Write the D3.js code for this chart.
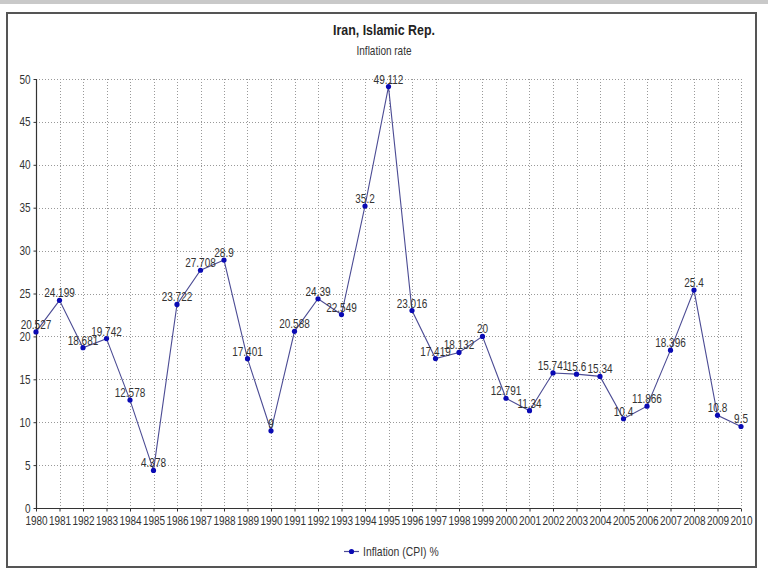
<!DOCTYPE html>
<html>
<head>
<meta charset="utf-8">
<script src="https://cdn.jsdelivr.net/npm/d3@7"></script>
<style>
  html, body { margin: 0; padding: 0; background: #ffffff; }
  svg { display: block; }
  text { font-family: "Liberation Sans", Arial, sans-serif; fill: #333; }
</style>
</head>
<body>
<script>
const years = [1980,1981,1982,1983,1984,1985,1986,1987,1988,1989,1990,1991,1992,1993,1994,1995,1996,1997,1998,1999,2000,2001,2002,2003,2004,2005,2006,2007,2008,2009,2010];
const values = [20.527,24.199,18.681,19.742,12.578,4.378,23.722,27.708,28.9,17.401,9,20.588,24.39,22.549,35.2,49.112,23.016,17.419,18.132,20,12.791,11.34,15.741,15.6,15.34,10.4,11.866,18.396,25.4,10.8,9.5];
const labels = ["20.527","24.199","18.681","19.742","12.578","4.378","23.722","27.708","28.9","17.401","9","20.588","24.39","22.549","35.2","49.112","23.016","17.419","18.132","20","12.791","11.34","15.741","15.6","15.34","10.4","11.866","18.396","25.4","10.8","9.5"];
const yTicks = [0,5,10,15,20,25,30,35,40,45,50];
const title = "Iran, Islamic Rep.";
const subtitle = "Inflation rate";
const seriesName = "Inflation (CPI) %";

const NARROW = 0.8;
const W = 768, H = 576;
const svg = d3.select("body").append("svg").attr("width", W).attr("height", H);

function ntext(parent, px, py, str, size, anchor, weight) {
  const g = parent.append("g").attr("transform", `translate(${px},${py})`);
  const t = g.append("text").attr("transform", `scale(${NARROW},1)`)
    .attr("text-anchor", anchor || "start").attr("font-size", size + "px").text(str);
  if (weight) t.attr("font-weight", weight);
  return t;
}

// top strip and frame
svg.append("rect").attr("x",0).attr("y",0).attr("width",W).attr("height",4).attr("fill","#c9c9c9");
svg.append("rect").attr("x",7).attr("y",13).attr("width",749).attr("height",554)
  .attr("fill","#fff").attr("stroke","#555").attr("stroke-width",2);

const x = d3.scaleLinear().domain([1980,2010]).range([36,741]);
const y = d3.scaleLinear().domain([0,50]).range([508,79]);

// titles
ntext(svg, 384, 35, title, 15.5, "middle", "bold").style("fill","#222");
ntext(svg, 384, 55, subtitle, 12.5, "middle");

// grid
const grid = svg.append("g").attr("stroke","#999").attr("stroke-width",1).attr("stroke-dasharray","1,2");
grid.selectAll("line.h").data(yTicks.filter(d=>d>0)).enter().append("line")
  .attr("x1",36).attr("x2",744).attr("y1",d=>Math.round(y(d))+0.5).attr("y2",d=>Math.round(y(d))+0.5);
grid.selectAll("line.v").data(years.slice(1)).enter().append("line")
  .attr("x1",d=>Math.round(x(d))+0.5).attr("x2",d=>Math.round(x(d))+0.5).attr("y1",y(50)).attr("y2",y(0));

// axes
const yAxis = d3.axisLeft(y).tickValues(yTicks).tickSize(3).tickPadding(3).tickFormat(d3.format("d"));
const gy = svg.append("g").attr("transform","translate(36.5,0)").call(yAxis);
const xAxis = d3.axisBottom(x).tickValues(years).tickSize(3).tickPadding(5).tickFormat(d3.format("d"));
const gx = svg.append("g").attr("transform",`translate(0,${Math.round(y(0))+0.5})`).call(xAxis);
[gy,gx].forEach(g=>{
  g.attr("font-family",null).attr("font-size",null);
  g.select(".domain").attr("stroke","#333").attr("stroke-width",1.2);
  g.selectAll(".tick line").attr("stroke","#333");
  g.selectAll(".tick text").attr("font-size","12.5px").style("fill","#333")
    .attr("transform",`scale(${NARROW},1)`);
});
gy.selectAll(".tick text").attr("x",-6/NARROW);
gy.select(".domain").attr("d",`M0,${y(50)}V${y(0)}`);
gx.select(".domain").attr("d",`M${x(1980)},0H${x(2010)}`);

// line
const line = d3.line().x((d,i)=>x(years[i])).y(d=>y(d));
svg.append("path").datum(values).attr("d",line).attr("fill","none")
  .attr("stroke","#4c4c94").attr("stroke-width",1.1);

// points
svg.selectAll("circle.pt").data(values).enter().append("circle")
  .attr("cx",(d,i)=>x(years[i])).attr("cy",d=>y(d)).attr("r",2.6).attr("fill","#0a0ab4");

// data labels
const lblG = svg.append("g");
values.forEach((d,i)=>{
  ntext(lblG, x(years[i]), y(d)-3, labels[i], 12.5, "middle");
});

// legend
const lg = svg.append("g").attr("transform","translate(344,551)");
lg.append("line").attr("x1",0).attr("x2",15).attr("y1",0.5).attr("y2",0.5).attr("stroke","#4c4c94").attr("stroke-width",1.2);
lg.append("circle").attr("cx",7.5).attr("cy",0.5).attr("r",2.6).attr("fill","#0a0ab4");
ntext(lg, 19, 5, seriesName, 13, "start");
</script>
</body>
</html>
